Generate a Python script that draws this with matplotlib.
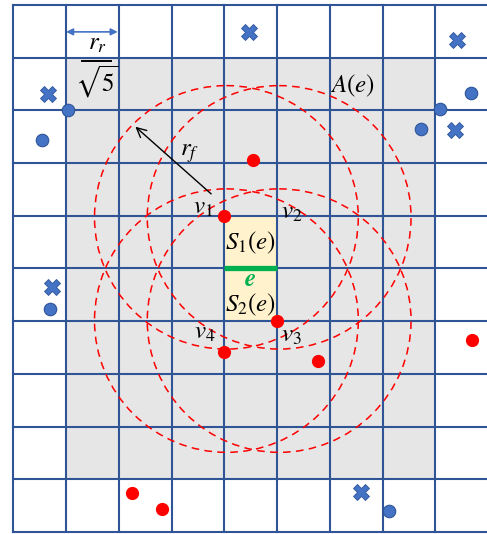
import matplotlib.pyplot as plt
from matplotlib.patches import Rectangle, Circle

plt.rcParams['mathtext.fontset'] = 'stix'

# grid: 9 columns visible, 10 rows (cell units)
n_cols = 9
n_rows = 10

# shaded region A(e) and the two cells S1(e), S2(e)
area_box = (1, 1, 7, 8)        # x, y, width, height
cell_box = (4, 4, 1, 2)

# the edge e
edge_x = [4, 5]
edge_y = [5, 5]

# red dashed circles of radius r_f around the cell corners
circle_cx = [4.04, 5.04, 4.04, 5.04]
circle_cy = [4.03, 4.03, 5.99, 5.99]
r_f = 2.5

# red points
red_x = [4.0, 5.0, 4.0, 4.54, 5.77, 8.70, 2.25, 2.81]
red_y = [4.0, 6.0, 6.59, 2.95, 6.75, 6.36, 9.26, 9.56]

# blue circles
blue_x = [1.03, 0.54, 8.08, 8.67, 7.72, 0.70, 7.12]
blue_y = [2.00, 2.57, 1.97, 1.67, 2.36, 5.77, 9.60]

# blue crosses
cross_x = [0.66, 4.47, 8.41, 8.37, 0.73, 6.59]
cross_y = [1.69, 0.52, 0.66, 2.37, 5.35, 9.24]

# vertex labels
v_labels = ['$v_1$', '$v_2$', '$v_3$', '$v_4$']
v_lx = [3.60, 5.28, 5.28, 3.63]
v_ly = [3.83, 3.92, 6.26, 6.20]

line_blue = '#2F5597'
fill_blue = '#4472C4'

fig = plt.figure(figsize=(4.87, 5.34), dpi=100)
ax = fig.add_axes([0, 0, 1, 1])
ax.set_xlim(-0.252, 8.98)
ax.set_ylim(10.04, -0.095)
ax.axis('off')

ax.add_patch(Rectangle(area_box[:2], area_box[2], area_box[3],
                       facecolor='#E6E6E6', edgecolor='none', zorder=1))
ax.add_patch(Rectangle(cell_box[:2], cell_box[2], cell_box[3],
                       facecolor='#FFF2CC', edgecolor='none', zorder=1))

for i in range(n_cols + 1):
    ax.plot([i, i], [0, n_rows], color=line_blue, lw=1.5, zorder=2)
for j in range(n_rows + 1):
    ax.plot([0, n_cols], [j, j], color=line_blue, lw=1.5, zorder=2)

ax.plot(edge_x, edge_y, color='#00B050', lw=3.8, solid_capstyle='butt', zorder=3)

for cx, cy in zip(circle_cx, circle_cy):
    ax.add_patch(Circle((cx, cy), r_f, fill=False, edgecolor='#FF0000',
                        lw=1.1, linestyle=(0, (5, 3.5)), zorder=4))

ax.plot(red_x, red_y, 'o', color='#FF0000', ms=8.5, zorder=5)
ax.plot(blue_x, blue_y, 'o', color=fill_blue, mec=line_blue, mew=0.8,
        ms=9, zorder=5)
ax.plot(cross_x, cross_y, 'X', color=fill_blue, mec=line_blue, mew=0.6,
        ms=11.5, zorder=5)

# r_f arrow
ax.annotate('', xy=(2.275, 2.275), xytext=(3.79, 3.62),
            arrowprops=dict(arrowstyle='->', color='black', lw=1,
                            mutation_scale=17), zorder=6)
# r_r / sqrt(5) arrow
ax.annotate('', xy=(1.0, 0.51), xytext=(1.98, 0.51),
            arrowprops=dict(arrowstyle='<|-|>', color=fill_blue, lw=1.2,
                            mutation_scale=10, shrinkA=0, shrinkB=0), zorder=6)

fs = 18
for lab, lx, ly in zip(v_labels, v_lx, v_ly):
    ax.text(lx, ly, lab, fontsize=fs, ha='center', va='center', zorder=7)

ax.text(4.49, 4.51, '$S_1(e)$', fontsize=fs, ha='center', va='center', zorder=7)
ax.text(4.49, 5.69, '$S_2(e)$', fontsize=fs, ha='center', va='center', zorder=7)
ax.text(4.49, 5.21, 'e', fontsize=fs, family='STIXGeneral', style='italic',
        weight='bold', color='#00B050', ha='center', va='center', zorder=7)
ax.text(6.44, 1.53, '$A(e)$', fontsize=fs, ha='center', va='center', zorder=7)
ax.text(3.35, 2.80, '$r_f$', fontsize=fs, ha='center', va='center', zorder=7)

ax.text(1.59, 0.72, '$r_r$', fontsize=fs, ha='center', va='center', zorder=7)
ax.plot([1.30, 1.855], [1.055, 1.055], color='black', lw=1.4, zorder=7)
ax.text(1.59, 1.45, r'$\sqrt{5}$', fontsize=fs, ha='center', va='center', zorder=7)

fig.savefig('out.png', dpi=100)
